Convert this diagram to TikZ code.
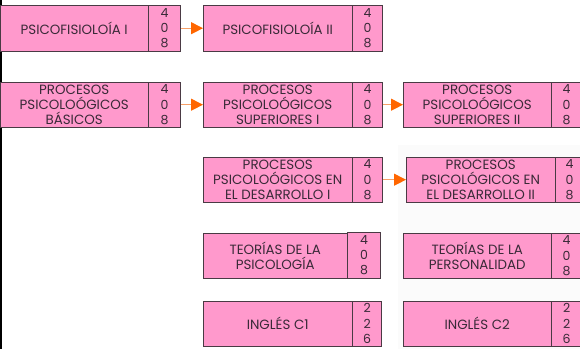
\documentclass[tikz,border=0pt]{standalone}
\usepackage{fontspec}
\setmainfont{Poppins}
\usetikzlibrary{arrows.meta}

\definecolor{rosa}{HTML}{FF99CC}
\definecolor{borde}{HTML}{4A3A44}
\definecolor{texto}{HTML}{3A2A38}
\definecolor{naranja}{HTML}{FF6600}
\definecolor{naranjaclaro}{HTML}{F7A068}

\tikzstyle{materia}=[draw=borde, fill=rosa, text=texto, anchor=north west, inner sep=0pt, align=center, font=\fontsize{13.4}{15}\selectfont]
\tikzstyle{creditos}=[materia, font=\fontsize{12.5}{15.3}\selectfont]
\tikzstyle{flecha}=[draw=naranjaclaro, line width=1pt, -{Triangle[length=12pt, width=12pt, color=naranja]}]

\begin{document}
\begin{tikzpicture}[x=1pt, y=-1pt]
\useasboundingbox (0,0) rectangle (580,349);
\fill[black!1.5] (398,145) rectangle (580,349);
\draw[line width=1.5pt] (0.75,0) -- (0.75,349);

% primera fila
\node[materia, minimum width=148pt, minimum height=46pt] (c1) at (0,5) {PSICOFISIOLOÍA I};
\node[creditos, minimum width=32pt, minimum height=46pt] (c1n) at (c1.north east) {4\\0\\8};
\node[materia, minimum width=149pt, minimum height=46pt] (c2) at (203,5) {PSICOFISIOLOÍA II};
\node[creditos, minimum width=30pt, minimum height=46pt] (c2n) at (c2.north east) {4\\0\\8};

% segunda fila
\node[materia, minimum width=148pt, minimum height=45pt] (c3) at (0,82) {PROCESOS\\PSICOLOÓGICOS\\BÁSICOS};
\node[creditos, minimum width=32pt, minimum height=45pt] (c3n) at (c3.north east) {4\\0\\8};
\node[materia, minimum width=149pt, minimum height=45pt] (c4) at (203,82) {PROCESOS\\PSICOLOÓGICOS\\SUPERIORES I};
\node[creditos, minimum width=30pt, minimum height=45pt] (c4n) at (c4.north east) {4\\0\\8};
\node[materia, minimum width=148pt, minimum height=45pt] (c5) at (403,82) {PROCESOS\\PSICOLOÓGICOS\\SUPERIORES II};
\node[creditos, minimum width=30pt, minimum height=45pt] (c5n) at (c5.north east) {4\\0\\8};

% tercera fila
\node[materia, minimum width=149pt, minimum height=45pt] (c6) at (203,157) {PROCESOS\\PSICOLOÓGICOS EN\\EL DESARROLLO I};
\node[creditos, minimum width=30pt, minimum height=45pt] (c6n) at (c6.north east) {4\\0\\8};
\node[materia, minimum width=149pt, minimum height=45pt] (c7) at (406,157) {PROCESOS\\PSICOLÓGICOS EN\\EL DESARROLLO II};
\node[creditos, minimum width=28pt, minimum height=45pt] (c7n) at (c7.north east) {4\\0\\8};

% cuarta fila
\node[materia, minimum width=144pt, minimum height=45pt] (c8) at (203,233) {TEORÍAS DE LA\\PSICOLOGÍA};
\node[creditos, minimum width=33pt, minimum height=46pt] (c8n) at ([yshift=1pt]c8.north east) {4\\0\\8};
\node[materia, minimum width=148pt, minimum height=45pt] (c9) at (403,233) {TEORÍAS DE LA\\PERSONALIDAD};
\node[creditos, minimum width=30pt, minimum height=45pt] (c9n) at (c9.north east) {4\\0\\8};

% quinta fila
\node[materia, minimum width=149pt, minimum height=45pt] (c10) at (203,301) {INGLÉS C1};
\node[creditos, minimum width=29pt, minimum height=45pt] (c10n) at (c10.north east) {2\\2\\6};
\node[materia, minimum width=148pt, minimum height=45pt] (c11) at (403,301) {INGLÉS C2};
\node[creditos, minimum width=30pt, minimum height=45pt] (c11n) at (c11.north east) {2\\2\\6};

% prelaciones
\draw[flecha] (c1n) -- (c2);
\draw[flecha] (c3n) -- (c4);
\draw[flecha] (c4n) -- (c5);
\draw[flecha] (c6n) -- (c7);
\end{tikzpicture}
\end{document}
